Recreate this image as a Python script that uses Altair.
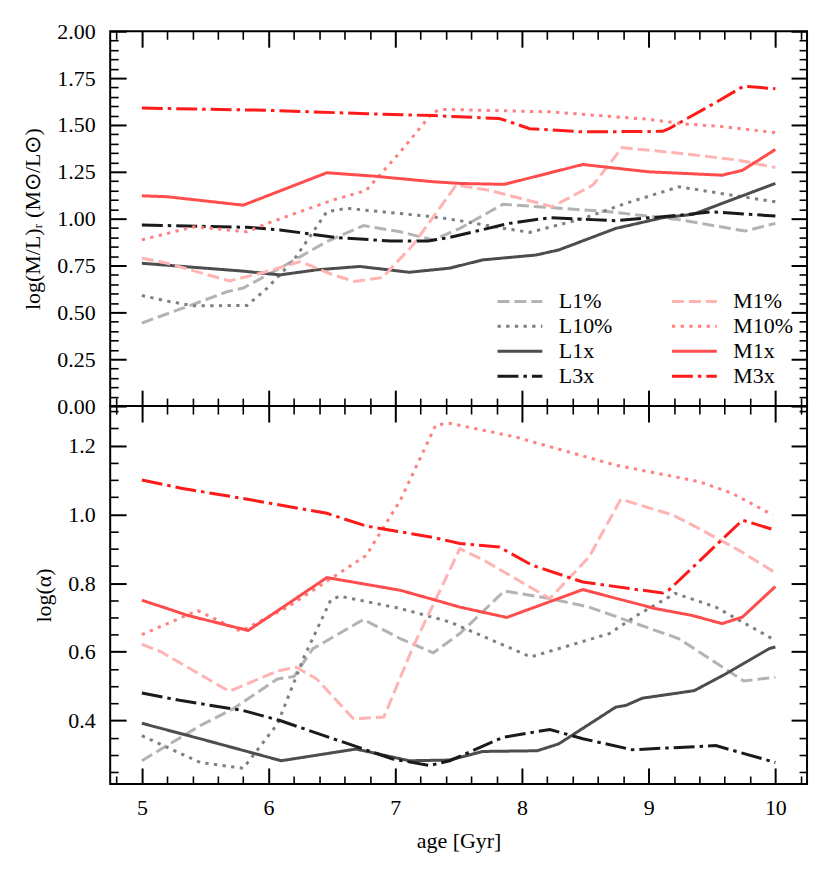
import altair as alt
import pandas as pd

FONT = "Liberation Serif"

# ---------------- data ----------------
series_order = ["L1%", "L10%", "L1x", "L3x", "M1%", "M10%", "M1x", "M3x"]
series_colors = ["#b3b3b3", "#808080", "#4d4d4d", "#1a1a1a",
                 "#ffb3b3", "#ff8080", "#ff4d4d", "#ff1a1a"]
DASHED = [12, 5]
DOTTED = [3.3, 5.4]
SOLID = [1, 0]
DASHDOT = [21, 5, 3.5, 5]
series_dashes = [DASHED, DOTTED, SOLID, DASHDOT, DASHED, DOTTED, SOLID, DASHDOT]

# top panel: log(M/L)_r
top_L1_age = [5.0, 5.41, 5.67, 5.80, 6.09, 6.46, 6.75, 7.04, 7.30, 7.51, 7.85, 8.69, 9.26, 9.76, 10.0]
top_L1_val = [0.443, 0.544, 0.61, 0.63, 0.736, 0.878, 0.963, 0.93, 0.886, 0.948, 1.077, 1.037, 0.993, 0.934, 0.975]
top_L10_age = [5.0, 5.2, 5.41, 5.83, 5.99, 6.20, 6.46, 6.62, 7.30, 7.43, 7.85, 8.06, 8.48, 8.82, 9.24, 9.66, 10.0]
top_L10_val = [0.59, 0.56, 0.535, 0.537, 0.63, 0.78, 1.037, 1.055, 1.01, 0.998, 0.949, 0.927, 1.0, 1.082, 1.17, 1.125, 1.09]
top_L1x_age = [5.0, 5.80, 6.09, 6.38, 6.72, 7.11, 7.43, 7.69, 8.11, 8.29, 8.74, 9.11, 9.35, 10.0]
top_L1x_val = [0.762, 0.72, 0.70, 0.727, 0.745, 0.714, 0.736, 0.78, 0.806, 0.833, 0.948, 1.005, 1.023, 1.188]
top_L3x_age = [5.0, 5.83, 6.09, 6.54, 6.96, 7.26, 7.43, 7.90, 8.22, 8.74, 9.32, 9.50, 10.0]
top_L3x_val = [0.966, 0.954, 0.94, 0.899, 0.881, 0.881, 0.9, 0.975, 1.005, 0.989, 1.023, 1.037, 1.014]
top_M1_age = [5.0, 5.2, 5.69, 5.94, 6.25, 6.51, 6.68, 6.90, 7.14, 7.48, 7.74, 8.24, 8.56, 8.79, 9.26, 9.71, 10.0]
top_M1_val = [0.789, 0.762, 0.668, 0.709, 0.771, 0.70, 0.665, 0.686, 0.86, 1.179, 1.152, 1.064, 1.179, 1.379, 1.348, 1.312, 1.273]
top_M10_age = [5.0, 5.41, 5.83, 5.99, 6.51, 6.77, 7.04, 7.30, 7.38, 8.22, 9.0, 9.26, 9.60, 10.0]
top_M10_val = [0.887, 0.957, 0.93, 0.975, 1.10, 1.15, 1.356, 1.57, 1.583, 1.57, 1.53, 1.507, 1.49, 1.459]
top_M1x_age = [5.0, 5.2, 5.80, 6.46, 6.83, 7.30, 7.51, 7.86, 8.48, 9.0, 9.58, 9.74, 10.0]
top_M1x_val = [1.122, 1.117, 1.072, 1.245, 1.227, 1.197, 1.188, 1.183, 1.289, 1.25, 1.232, 1.258, 1.369]
top_M3x_age = [5.0, 6.0, 6.77, 7.30, 7.43, 7.82, 7.89, 8.06, 8.48, 9.11, 9.16, 9.53, 9.75, 10.0]
top_M3x_val = [1.59, 1.578, 1.56, 1.55, 1.546, 1.534, 1.52, 1.48, 1.463, 1.466, 1.48, 1.62, 1.707, 1.693]

# bottom panel: log(alpha)
bot_L1_age = [5.0, 5.46, 5.72, 6.07, 6.20, 6.35, 6.75, 7.04, 7.30, 7.51, 7.86, 8.22, 8.53, 9.24, 9.75, 10.0]
bot_L1_val = [0.283, 0.385, 0.434, 0.521, 0.528, 0.609, 0.694, 0.638, 0.597, 0.653, 0.777, 0.755, 0.73, 0.638, 0.515, 0.526]
bot_L10_age = [5.0, 5.46, 5.80, 6.07, 6.28, 6.49, 6.56, 7.04, 7.43, 8.07, 8.69, 8.93, 9.21, 9.53, 10.0]
bot_L10_val = [0.356, 0.278, 0.261, 0.39, 0.585, 0.75, 0.762, 0.726, 0.687, 0.585, 0.653, 0.711, 0.77, 0.73, 0.633]
bot_L1x_age = [5.0, 5.46, 6.10, 6.69, 7.11, 7.43, 7.69, 8.12, 8.29, 8.74, 8.82, 8.95, 9.36, 9.61, 9.95, 10.0]
bot_L1x_val = [0.392, 0.347, 0.283, 0.317, 0.283, 0.285, 0.31, 0.312, 0.332, 0.439, 0.444, 0.465, 0.487, 0.536, 0.609, 0.614]
bot_L3x_age = [5.0, 5.31, 5.80, 6.09, 6.51, 6.98, 7.27, 7.43, 7.85, 8.22, 8.48, 8.87, 9.53, 10.0]
bot_L3x_val = [0.48, 0.458, 0.429, 0.40, 0.347, 0.288, 0.269, 0.283, 0.351, 0.374, 0.347, 0.315, 0.327, 0.278]
bot_M1_age = [5.0, 5.15, 5.69, 6.07, 6.22, 6.38, 6.67, 6.91, 7.14, 7.51, 7.69, 8.22, 8.53, 8.78, 9.19, 9.35, 9.71, 10.0]
bot_M1_val = [0.622, 0.60, 0.485, 0.544, 0.555, 0.521, 0.405, 0.41, 0.614, 0.90, 0.868, 0.755, 0.876, 1.044, 0.998, 0.968, 0.896, 0.83]
bot_M10_age = [5.0, 5.44, 5.78, 6.15, 6.77, 7.04, 7.32, 7.43, 7.95, 8.74, 9.40, 9.66, 9.98]
bot_M10_val = [0.65, 0.72, 0.66, 0.73, 0.88, 1.041, 1.26, 1.265, 1.225, 1.143, 1.095, 1.061, 0.998]
bot_M1x_age = [5.0, 5.2, 5.36, 5.84, 6.46, 7.04, 7.32, 7.51, 7.88, 8.48, 9.05, 9.34, 9.58, 9.74, 10.0]
bot_M1x_val = [0.75, 0.726, 0.706, 0.662, 0.816, 0.779, 0.75, 0.73, 0.70, 0.781, 0.726, 0.706, 0.682, 0.701, 0.79]
bot_M3x_age = [5.0, 5.31, 5.80, 6.46, 6.77, 7.30, 7.51, 7.82, 8.08, 8.48, 9.11, 9.16, 9.74, 10.0]
bot_M3x_val = [1.10, 1.076, 1.046, 1.003, 0.966, 0.933, 0.915, 0.905, 0.852, 0.803, 0.771, 0.78, 0.983, 0.954]

x_major = [5, 6, 7, 8, 9, 10]
top_y_major = [0.0, 0.25, 0.5, 0.75, 1.0, 1.25, 1.5, 1.75, 2.0]
bot_y_major = [0.4, 0.6, 0.8, 1.0, 1.2]


def build(pairs):
    rows = []
    for name, ages, vals in pairs:
        for a, v in zip(ages, vals):
            rows.append({"age": a, "val": v, "series": name})
    return pd.DataFrame(rows)


top_df = build([
    ("L1%", top_L1_age, top_L1_val), ("L10%", top_L10_age, top_L10_val),
    ("L1x", top_L1x_age, top_L1x_val), ("L3x", top_L3x_age, top_L3x_val),
    ("M1%", top_M1_age, top_M1_val), ("M10%", top_M10_age, top_M10_val),
    ("M1x", top_M1x_age, top_M1x_val), ("M3x", top_M3x_age, top_M3x_val),
])
bot_df = build([
    ("L1%", bot_L1_age, bot_L1_val), ("L10%", bot_L10_age, bot_L10_val),
    ("L1x", bot_L1x_age, bot_L1x_val), ("L3x", bot_L3x_age, bot_L3x_val),
    ("M1%", bot_M1_age, bot_M1_val), ("M10%", bot_M10_age, bot_M10_val),
    ("M1x", bot_M1x_age, bot_M1x_val), ("M3x", bot_M3x_age, bot_M3x_val),
])

# ---------------- layout ----------------
W = 699
H_TOP = 376
H_BOT = 379
X_DOM = [4.75, 10.25]
TOP_DOM = [0.0, 2.0]
BOT_DOM = [0.2155, 1.315]
MAJ = 16
MIN = 8

x_minor = [round(4.8 + 0.2 * i, 2) for i in range(28)]
x_minor = [v for v in x_minor if abs(v - round(v)) > 1e-6]
top_y_minor = [round(0.05 * i, 2) for i in range(41)]
top_y_minor = [v for v in top_y_minor if abs(v * 4 - round(v * 4)) > 1e-6]
bot_y_minor = [round(0.25 + 0.05 * i, 2) for i in range(22)]
bot_y_minor = [v for v in bot_y_minor if abs(v * 5 - round(v * 5)) > 1e-6]

# long thin line symbol: path spans 3x the symbol "size" side
legend = alt.Legend(
    title=None, orient="none", legendX=400, legendY=260, columns=2,
    symbolType="M-3,0H3", symbolSize=225, symbolStrokeWidth=3,
    labelFont=FONT, labelFontSize=22, labelColor="black", labelOffset=28,
    columnPadding=53, rowPadding=3, padding=0,
)


def panel(df, ydom, ymaj, ymin, H, ytitle, yfmt, title_x, show_x, with_legend):
    xs = alt.Scale(domain=X_DOM, nice=False, zero=False)
    ys = alt.Scale(domain=ydom, nice=False, zero=False)
    base = alt.Chart(df)
    if show_x:
        xax = alt.Axis(values=x_major, ticks=False, tickSize=0, domain=False, grid=False,
                       labelPadding=14, title="age [Gyr]", titlePadding=12, format="d",
                       labelFont=FONT, labelFontSize=22, titleFont=FONT, titleFontSize=22)
    else:
        xax = None
    yax = alt.Axis(values=ymaj, ticks=False, tickSize=0, domain=False, grid=False,
                   labelPadding=15, format=yfmt, title=ytitle, titleX=title_x,
                   titleY=H / 2, minExtent=92, maxExtent=92,
                   labelFont=FONT, labelFontSize=22, titleFont=FONT, titleFontSize=22)
    leg = legend if with_legend else None
    lines = base.mark_line(strokeWidth=3).encode(
        x=alt.X("age:Q", scale=xs, axis=xax),
        y=alt.Y("val:Q", scale=ys, axis=yax),
        color=alt.Color("series:N", scale=alt.Scale(domain=series_order, range=series_colors), legend=leg),
        strokeDash=alt.StrokeDash("series:N", scale=alt.Scale(domain=series_order, range=series_dashes), legend=leg),
    )

    def tick(channel, orient, offset, values, size, width):
        ax = alt.Axis(orient=orient, offset=offset, values=values, labels=False, domain=False,
                      grid=False, tickSize=size, tickWidth=width, tickColor="black", title=None,
                      minExtent=0)
        if channel == "x":
            enc = dict(x=alt.X("age:Q", scale=xs, axis=ax), y=alt.Y("val:Q", scale=ys, axis=None))
        else:
            enc = dict(x=alt.X("age:Q", scale=xs, axis=None), y=alt.Y("val:Q", scale=ys, axis=ax))
        return base.mark_point(opacity=0).encode(**enc)

    ticks = [
        tick("x", "top", -H, x_major, MAJ, 2),
        tick("x", "top", -H, x_minor, MIN, 1.6),
        tick("x", "bottom", -H, x_major, MAJ, 2),
        tick("x", "bottom", -H, x_minor, MIN, 1.6),
        tick("y", "right", -W, ymaj, MAJ, 2),
        tick("y", "right", -W, ymin, MIN, 1.6),
        tick("y", "left", -W, ymaj, MAJ, 2),
        tick("y", "left", -W, ymin, MIN, 1.6),
    ]
    return alt.layer(lines, *ticks).resolve_axis(x="independent", y="independent").properties(
        width=W, height=H)


top = panel(top_df, TOP_DOM, top_y_major, top_y_minor, H_TOP,
            "log(M/L)ᵣ (M⊙/L⊙)", ".2f", -65.5, False, True)
bottom = panel(bot_df, BOT_DOM, bot_y_major, bot_y_minor, H_BOT,
               "log(α)", ".1f", -55, True, False)

chart = alt.vconcat(top, bottom, spacing=0, bounds="flush").resolve_scale(
    color="independent", strokeDash="independent"
).properties(
    padding={"left": 9.5, "top": 10, "right": 12, "bottom": 10}
).configure_view(
    stroke="black", strokeWidth=2
).configure_axis(
    labelFont=FONT, labelFontSize=22, labelColor="black",
    titleFont=FONT, titleFontSize=22, titleColor="black", titleFontWeight="normal",
)

chart.save("out.html", embed_options={"renderer": "svg", "actions": False})
